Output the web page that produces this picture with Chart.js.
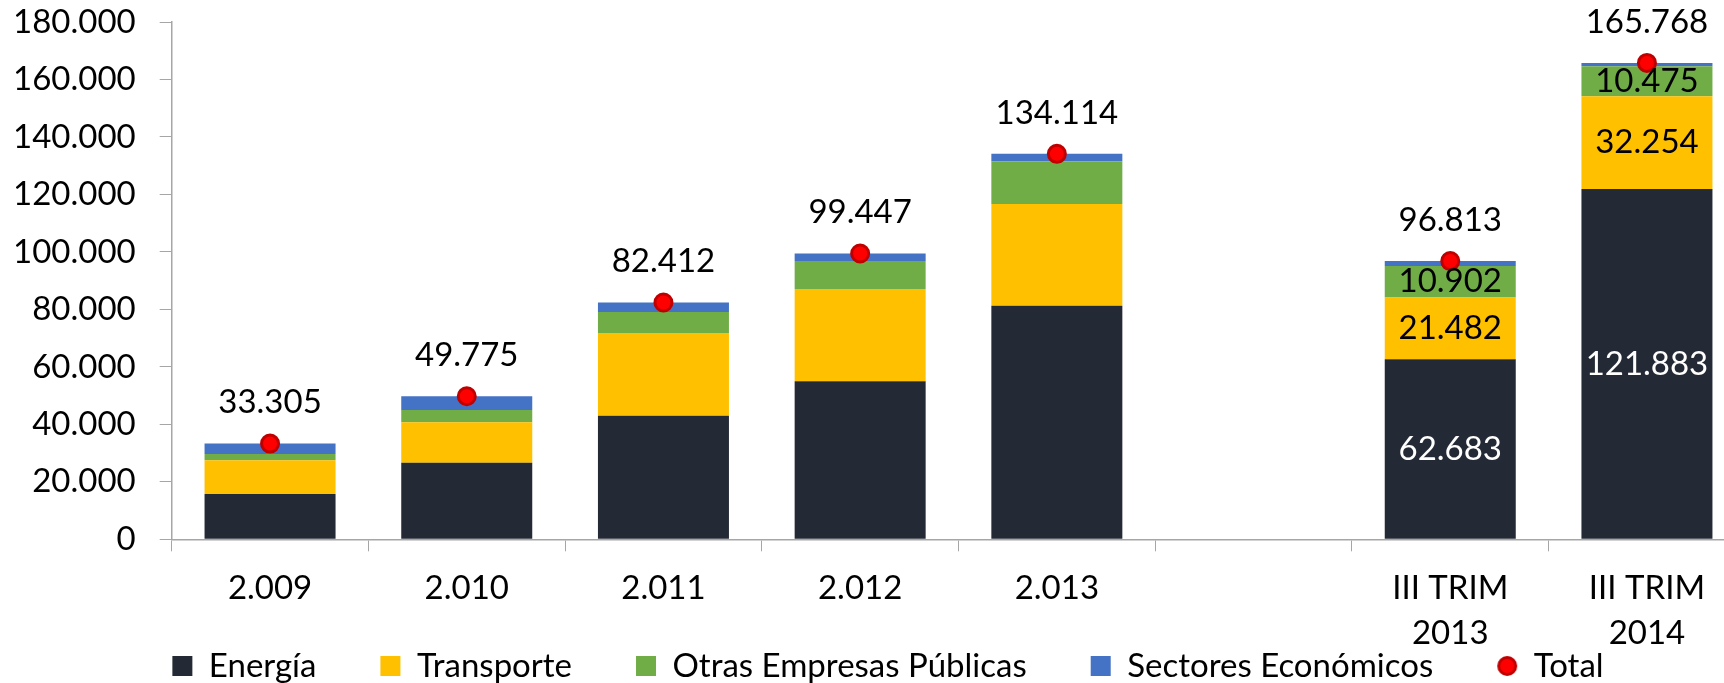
<!DOCTYPE html>
<html>
<head>
<meta charset="utf-8">
<script src="https://cdn.jsdelivr.net/npm/chart.js@4"></script>
<style>
  html, body { margin: 0; padding: 0; background: #fff; overflow: hidden; width: 1724px; height: 683px; }
  canvas { display: block; }
</style>
</head>
<body>
<canvas id="c" width="1776" height="800"></canvas>
<script>
const categories = ['2.009', '2.010', '2.011', '2.012', '2.013', '', ['III TRIM', '2013'], ['III TRIM', '2014']]
const energia = [15760, 26650, 43000, 54960, 81250, null, 62683, 121883]
const transporte = [11720, 14050, 28750, 32100, 35380, null, 21482, 32254]
const otras = [2190, 4280, 7310, 9740, 14850, null, 10902, 10475]
const sectores = [3635, 4795, 3352, 2647, 2634, null, 1746, 1156]
const totales = [33305, 49775, 82412, 99447, 134114, null, 96813, 165768]
const labeledCols = [6, 7]  // only the quarterly bars show segment values

const FONT = 'Lato'
const FS = 33
const AXIS_GRAY = '#A6A6A6'

const fmt = v => String(v).replace(/\B(?=(\d{3})+(?!\d))/g, '.')

// legend icon for Total
const dot = document.createElement('canvas')
dot.width = 22
dot.height = 22
{
  const g = dot.getContext('2d')
  g.beginPath()
  g.arc(11, 11, 8.5, 0, Math.PI * 2)
  g.fillStyle = '#FF0000'
  g.fill()
  g.lineWidth = 3
  g.strokeStyle = '#C00000'
  g.stroke()
}

const labelsPlugin = {
  id: 'valueLabels',
  afterLayout(chart) {
    // legend row sits just under the two-line category labels
    const lg = chart.legend
    if (!lg) return
    const h = lg.height
    lg.top = 666 - FS / 2 - lg.options.labels.padding
    lg.bottom = lg.top + h
    lg.left = 0
    lg.right = 1776
  },
  afterDatasetsDraw(chart) {
    const ctx = chart.ctx
    ctx.save()
    ctx.font = `${FS}px ${FONT}`
    ctx.textAlign = 'center'
    ctx.textBaseline = 'middle'
    // segment values inside quarterly bars
    ;[0, 1, 2].forEach(di => {
      const meta = chart.getDatasetMeta(di)
      const data = chart.data.datasets[di].data
      labeledCols.forEach(i => {
        const el = meta.data[i]
        if (!el || data[i] == null) return
        ctx.fillStyle = di === 0 ? '#FFFFFF' : '#000000'
        ctx.fillText(fmt(data[i]), el.x, (el.y + el.base) / 2)
      })
    })
    // totals above the markers
    const tMeta = chart.getDatasetMeta(4)
    ctx.fillStyle = '#000000'
    totales.forEach((v, i) => {
      if (v == null) return
      const p = tMeta.data[i]
      ctx.fillText(fmt(v), p.x, p.y - 41)
    })
    ctx.restore()
  }
}

function draw() {
  const ctx = document.getElementById('c').getContext('2d')
  new Chart(ctx, {
    type: 'bar',
    data: {
      labels: categories,
      datasets: [
        { label: 'Energía', data: energia, backgroundColor: '#232A35', stack: 's', order: 1 },
        { label: 'Transporte', data: transporte, backgroundColor: '#FFC000', stack: 's', order: 1 },
        { label: 'Otras Empresas Públicas', data: otras, backgroundColor: '#70AD47', stack: 's', order: 1 },
        { label: 'Sectores Económicos', data: sectores, backgroundColor: '#4472C4', stack: 's', order: 1 },
        {
          type: 'line', label: 'Total', data: totales, stack: 't', order: 0,
          showLine: false, pointRadius: 8.5, pointBorderWidth: 3,
          pointBackgroundColor: '#FF0000', pointBorderColor: '#C00000',
          backgroundColor: '#FF0000', borderColor: '#C00000'
        }
      ]
    },
    options: {
      responsive: false,
      animation: false,
      events: [],
      datasets: { bar: { categoryPercentage: 1, barPercentage: 0.666, borderWidth: 0 } },
      layout: { padding: { left: 16, right: 30.7, top: 22, bottom: 23.7 } },
      plugins: {
        tooltip: { enabled: false },
        legend: {
          position: 'bottom',
          labels: {
            font: { family: FONT, size: FS },
            color: '#000',
            boxWidth: 20,
            boxHeight: 20,
            padding: 64,
            usePointStyle: true,
            sort: (a, b) => a.datasetIndex - b.datasetIndex,
            generateLabels(chart) {
              const items = Chart.defaults.plugins.legend.labels.generateLabels(chart)
              items.forEach(it => {
                it.pointStyle = it.datasetIndex === 4 ? dot : 'rect'
                it.lineWidth = 0
              })
              return items
            }
          }
        }
      },
      scales: {
        x: {
          stacked: true,
          grid: { drawOnChartArea: false, tickLength: 12, color: AXIS_GRAY, offset: true },
          border: { color: AXIS_GRAY, width: 1.5 },
          ticks: {
            font: { family: FONT, size: FS, lineHeight: 1.375 },
            color: '#000', padding: 14, maxRotation: 0, minRotation: 0, autoSkip: false
          },
          afterFit(scale) { scale.height = 130 }
        },
        y: {
          stacked: true,
          min: 0, max: 180000,
          grid: { drawOnChartArea: false, tickLength: 12, color: AXIS_GRAY },
          border: { color: AXIS_GRAY, width: 1.5 },
          ticks: {
            stepSize: 20000,
            font: { family: FONT, size: FS },
            color: '#000', padding: 24,
            callback: v => fmt(v)
          },
          afterFit(scale) {
            scale.width = 155.7
            // tick padding would otherwise push the plot top down
            scale.paddingTop = 0
            scale.paddingBottom = 0
          }
        }
      }
    },
    plugins: [labelsPlugin]
  })
}

if (document.fonts && document.fonts.load) {
  document.fonts.load(`${FS}px ${FONT}`).then(draw, draw)
} else {
  draw()
}
</script>
</body>
</html>
